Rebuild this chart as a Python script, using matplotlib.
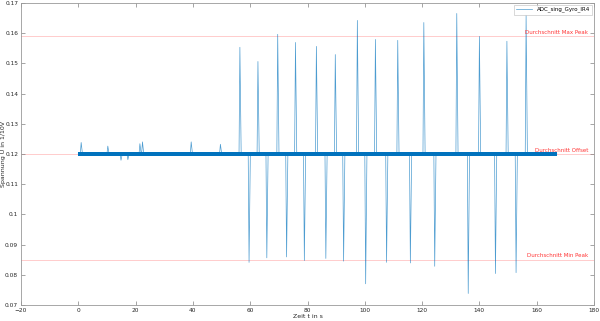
import numpy as np
import matplotlib.pyplot as plt
from matplotlib.ticker import FormatStrFormatter

offset = 0.12
max_peak_avg = 0.159
min_peak_avg = 0.085
t_end = 167.0

pos_t = [56.4, 62.7, 69.6, 75.8, 83.1, 89.7, 97.4, 103.7, 111.5, 120.6, 132.1, 140.0, 149.6, 156.3]
pos_v = [0.1553, 0.1506, 0.1596, 0.1569, 0.1556, 0.1529, 0.1642, 0.1579, 0.1576, 0.1635, 0.1665, 0.1589, 0.1573, 0.1659]
neg_t = [59.6, 65.8, 72.7, 78.9, 86.4, 92.6, 100.3, 107.6, 115.9, 124.4, 136.1, 145.6, 152.8]
neg_v = [0.0841, 0.0856, 0.0859, 0.0847, 0.0854, 0.0845, 0.0770, 0.0841, 0.0839, 0.0828, 0.0738, 0.0804, 0.0807]
small_t = [1.0, 10.3, 14.9, 17.3, 21.5, 22.4, 39.4, 49.6]
small_v = [0.1238, 0.1226, 0.1179, 0.1181, 0.1234, 0.1240, 0.1240, 0.1232]

xticks = [-20, 0, 20, 40, 60, 80, 100, 120, 140, 160, 180]
yticks = [0.07, 0.08, 0.09, 0.1, 0.11, 0.12, 0.13, 0.14, 0.15, 0.16, 0.17]

# build the trace from the spike key points
events = sorted(zip(pos_t + neg_t + small_t, pos_v + neg_v + small_v))
t = [0.0]
v = [offset]
for te, ve in events:
    t += [te - 0.3, te, te + 0.45]
    v += [offset, ve, offset]
t.append(t_end)
v.append(offset)

plt.rcParams['font.family'] = 'DejaVu Sans'
fig = plt.figure(figsize=(6, 3.21), dpi=100)
ax = fig.add_axes([0.035, 0.05, 0.955, 0.941])

blue = '#0072BD'
ax.fill_between([0, t_end], offset - 0.0007, offset + 0.0007, color=blue, lw=0, zorder=2)
ax.plot(t, v, color=blue, lw=0.5, alpha=0.7, label='ADC_sing_Gyro_IR4', zorder=3)

red_line = '#FF0000'
for y in [max_peak_avg, offset, min_peak_avg]:
    ax.axhline(y, color=red_line, lw=0.7, alpha=0.2, zorder=1)
ax.text(178, max_peak_avg + 0.0004, 'Durchschnitt Max Peak', color='#FF3333', fontsize=4, ha='right', va='bottom')
ax.text(178, offset + 0.0004, 'Durchschnitt Offset', color='#FF3333', fontsize=4, ha='right', va='bottom')
ax.text(178, min_peak_avg + 0.0004, 'Durchschnitt Min Peak', color='#FF3333', fontsize=4, ha='right', va='bottom')

ax.set_xlim(-20, 180)
ax.set_ylim(0.07, 0.17)
ax.set_xticks(xticks)
ax.set_yticks(yticks)
ax.yaxis.set_major_formatter(FormatStrFormatter('%g'))
ax.tick_params(direction='in', length=3, width=0.5, colors='#808080', labelcolor='#262626',
               labelsize=4.2, top=True, right=True, pad=2)
for s in ax.spines.values():
    s.set_color('#999999')
    s.set_linewidth(0.6)

ax.set_xlabel('Zeit t in s', fontsize=4.5, color='#262626', labelpad=1)
ax.set_ylabel('Spannung U in 1/10V', fontsize=4.5, color='#262626')
ax.yaxis.set_label_coords(-0.026, 0.5)

leg = ax.legend(loc='upper right', fontsize=4, frameon=True, fancybox=False,
                handlelength=3, borderpad=0.4, borderaxespad=0.3)
leg.get_frame().set_edgecolor('#bbbbbb')
leg.get_frame().set_linewidth(0.5)

fig.savefig('out.png', dpi=100)
